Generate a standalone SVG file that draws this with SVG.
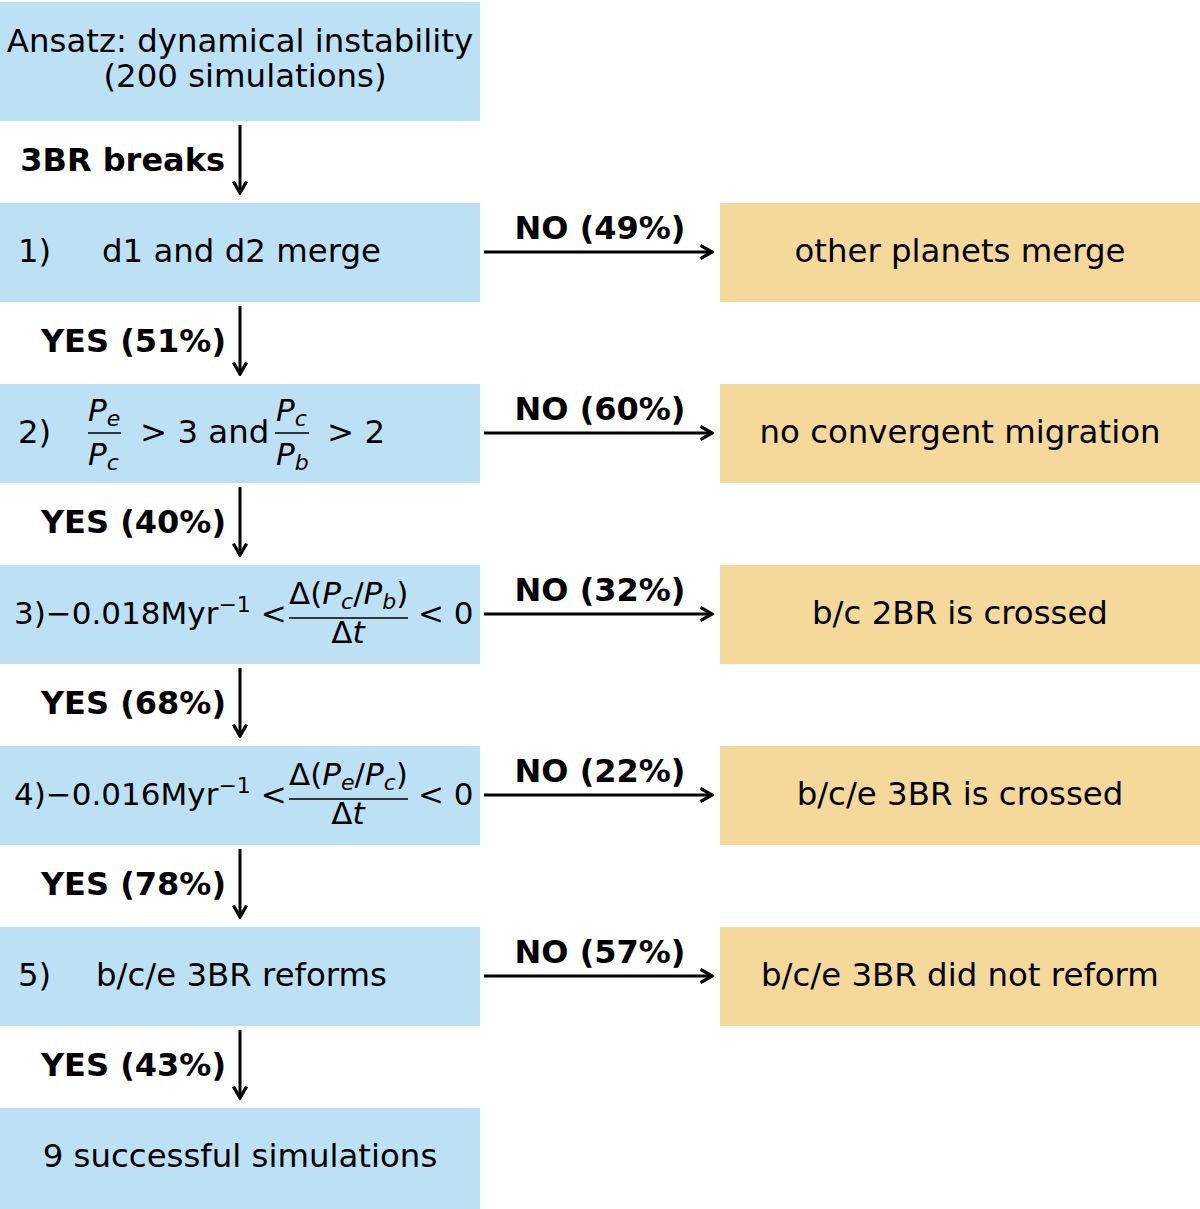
<svg xmlns="http://www.w3.org/2000/svg" width="1200" height="1209" viewBox="0 0 1200 1209">
<style>
.b{fill:#bce1f5}
.o{fill:#f5d99b}
text{font-family:"DejaVu Sans",sans-serif;font-size:32.4px;fill:#000}
.m{font-size:31px}
.c{text-anchor:middle}
.bd{font-weight:bold;font-size:32px}
.i{font-style:italic}
.s{font-size:22px}
.ln{stroke:#000;stroke-width:3;fill:none}
.fl{stroke:#000;stroke-width:1.6}
</style>
<defs>
<marker id="ah" viewBox="0 0 10 10" refX="8.5" refY="5" markerWidth="5.5" markerHeight="5.5" orient="auto" markerUnits="strokeWidth">
<path d="M1.5,1 L8.5,5 L1.5,9" fill="none" stroke="#000" stroke-width="2"/>
</marker>
</defs>
<g id="n0"><rect class="b" x="0" y="2" width="480" height="119"/><text class="c" x="240" y="52">Ansatz: dynamical instability</text><text class="c" x="245" y="87">(200 simulations)</text></g>
<g id="n1"><rect class="b" x="0" y="203" width="480" height="99"/><text x="18" y="262">1)</text><text x="102" y="262">d1 and d2 merge</text></g>
<g id="n2"><rect class="b" x="0" y="384" width="480" height="99"/><text x="18" y="443">2)</text>
<text x="88" y="421" class="i m">P<tspan class="s" dy="5" style="font-style:italic">e</tspan></text><line class="fl" x1="88" y1="433" x2="121" y2="433"/><text x="88" y="465" class="i m">P<tspan class="s" dy="5" style="font-style:italic">c</tspan></text>
<text x="140" y="443">&gt; 3 and</text>
<text x="276" y="421" class="i m">P<tspan class="s" dy="5" style="font-style:italic">c</tspan></text><line class="fl" x1="275" y1="433" x2="309" y2="433"/><text x="276" y="465" class="i m">P<tspan class="s" dy="5" style="font-style:italic">b</tspan></text>
<text x="327" y="443">&gt; 2</text></g>
<g id="n3"><rect class="b" x="0" y="565" width="480" height="99"/>
<text class="m" x="14" y="624">3)−0.018Myr<tspan class="s" dy="-12">−1</tspan><tspan dy="12"> &lt;</tspan></text>
<text class="m" x="289" y="604">Δ(<tspan class="i">P</tspan><tspan class="s i" dy="5">c</tspan><tspan dy="-5">/</tspan><tspan class="i">P</tspan><tspan class="s i" dy="5">b</tspan><tspan dy="-5">)</tspan></text>
<line class="fl" x1="289" y1="618" x2="408" y2="618"/><text class="c m" x="348" y="643">Δ<tspan class="i">t</tspan></text>
<text class="m" x="418" y="624">&lt; 0</text></g>
<g id="n4"><rect class="b" x="0" y="746" width="480" height="99"/>
<text class="m" x="14" y="805">4)−0.016Myr<tspan class="s" dy="-12">−1</tspan><tspan dy="12"> &lt;</tspan></text>
<text class="m" x="289" y="785">Δ(<tspan class="i">P</tspan><tspan class="s i" dy="5">e</tspan><tspan dy="-5">/</tspan><tspan class="i">P</tspan><tspan class="s i" dy="5">c</tspan><tspan dy="-5">)</tspan></text>
<line class="fl" x1="289" y1="799" x2="408" y2="799"/><text class="c m" x="348" y="824">Δ<tspan class="i">t</tspan></text>
<text class="m" x="418" y="805">&lt; 0</text></g>
<g id="n5"><rect class="b" x="0" y="927" width="480" height="99"/><text x="18" y="986">5)</text><text x="96" y="986">b/c/e 3BR reforms</text></g>
<g id="n6"><rect class="b" x="0" y="1108" width="480" height="101"/><text class="c" x="240" y="1167">9 successful simulations</text></g>
<g id="r1"><rect class="o" x="720" y="203" width="480" height="99"/><text class="c" x="960" y="262">other planets merge</text></g>
<g id="r2"><rect class="o" x="720" y="384" width="480" height="99"/><text class="c" x="960" y="443">no convergent migration</text></g>
<g id="r3"><rect class="o" x="720" y="565" width="480" height="99"/><text class="c" x="960" y="624">b/c 2BR is crossed</text></g>
<g id="r4"><rect class="o" x="720" y="746" width="480" height="99"/><text class="c" x="960" y="805">b/c/e 3BR is crossed</text></g>
<g id="r5"><rect class="o" x="720" y="927" width="480" height="99"/><text class="c" x="960" y="986">b/c/e 3BR did not reform</text></g>
<g id="connectors">
<line class="ln" x1="240" y1="125" x2="240" y2="193" marker-end="url(#ah)"/>
<line class="ln" x1="240" y1="306" x2="240" y2="374" marker-end="url(#ah)"/>
<line class="ln" x1="240" y1="487" x2="240" y2="555" marker-end="url(#ah)"/>
<line class="ln" x1="240" y1="668" x2="240" y2="736" marker-end="url(#ah)"/>
<line class="ln" x1="240" y1="849" x2="240" y2="917" marker-end="url(#ah)"/>
<line class="ln" x1="240" y1="1030" x2="240" y2="1098" marker-end="url(#ah)"/>
<line class="ln" x1="484" y1="252" x2="712" y2="252" marker-end="url(#ah)"/>
<line class="ln" x1="484" y1="433" x2="712" y2="433" marker-end="url(#ah)"/>
<line class="ln" x1="484" y1="614" x2="712" y2="614" marker-end="url(#ah)"/>
<line class="ln" x1="484" y1="795" x2="712" y2="795" marker-end="url(#ah)"/>
<line class="ln" x1="484" y1="976" x2="712" y2="976" marker-end="url(#ah)"/>
<text class="bd" x="225" y="171" text-anchor="end">3BR breaks</text>
<text class="bd" x="226" y="352" text-anchor="end">YES (51%)</text>
<text class="bd" x="226" y="533" text-anchor="end">YES (40%)</text>
<text class="bd" x="226" y="714" text-anchor="end">YES (68%)</text>
<text class="bd" x="226" y="895" text-anchor="end">YES (78%)</text>
<text class="bd" x="226" y="1076" text-anchor="end">YES (43%)</text>
<text class="bd c" x="600" y="239">NO (49%)</text>
<text class="bd c" x="600" y="420">NO (60%)</text>
<text class="bd c" x="600" y="601">NO (32%)</text>
<text class="bd c" x="600" y="782">NO (22%)</text>
<text class="bd c" x="600" y="963">NO (57%)</text>
</g>
</svg>
